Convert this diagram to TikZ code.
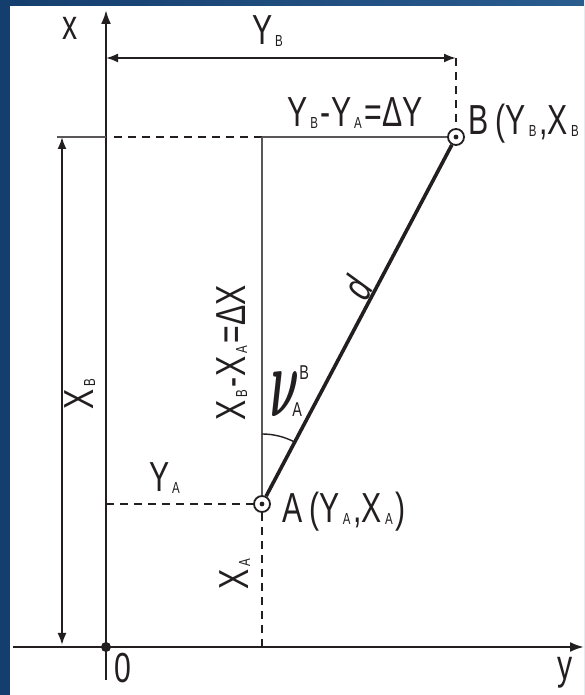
\documentclass[tikz,border=0pt]{standalone}
\usepackage{fontspec}
\setmainfont{Liberation Sans}[FakeStretch=0.72]
\usetikzlibrary{arrows.meta}
\definecolor{panelblue}{RGB}{20,62,110}
\definecolor{panellight}{RGB}{42,92,142}
\definecolor{ink}{RGB}{35,31,32}
% small index letter, set low as in the drawing
\newcommand{\lo}[1]{\kern1.5pt\raisebox{-1pt}{\fontsize{8}{9}\selectfont #1}\kern1.5pt}
\newcommand{\nuglyph}{\scalebox{0.9}[2.0]{\fontsize{30}{30}\selectfont\boldmath$\nu$}}

\begin{document}
\begin{tikzpicture}[x=0.5pt, y=0.5pt,
    axis/.style={ink, line width=1.2pt},
    thinline/.style={ink!75, line width=0.7pt},
    dim/.style={ink, line width=1pt, {Latex[length=6pt,width=4.5pt]}-{Latex[length=6pt,width=4.5pt]}},
    dashln/.style={ink, line width=1.1pt, dash pattern=on 4pt off 3pt},
    station/.style={circle, draw=ink, fill=white, line width=0.9pt, minimum size=8pt, inner sep=0pt,
        path picture={\fill[ink] (path picture bounding box.center) circle (1.2pt);}},
    lbl/.style={font=\fontsize{21}{24}\selectfont, inner sep=0pt, text=ink}
]
    % Frame
    \fill[left color=panelblue, right color=panellight] (0,0) rectangle (584,695);
    \fill[white] (10,0) rectangle (584,689);
    \useasboundingbox (0,0) rectangle (584,695);

    % Axes
    \coordinate (O) at (106,48);
    \coordinate (xbot) at (106,15);
    \coordinate (xtop) at (106,685);
    \coordinate (yleft) at (13,48);
    \coordinate (yright) at (584,48);
    \draw[axis, -{Latex[length=7pt,width=5pt]}] (xbot) -- (xtop);
    \draw[axis, -{Latex[length=7pt,width=5pt]}] (yleft) -- (yright);
    \fill[ink] (O) circle (2.5pt);

    % Points
    \node[station] (A) at (262,191) {};
    \node[station] (B) at (456,558) {};

    % Y_B dimension
    \coordinate (yb0) at (106,637);
    \coordinate (yb1) at (456,637);
    \draw[dim] (yb0) -- (yb1);
    \draw[dashln] (yb1) -- (B);

    % X_B dimension
    \coordinate (xb0) at (62,558);
    \coordinate (xb1) at (62,50);
    \draw[dim] (xb0) -- (xb1);

    % Level of B
    \coordinate (ext) at (57,558);
    \coordinate (xB) at (106,558);
    \coordinate (foot) at (262,558);
    \draw[thinline] (ext) -- (xB);
    \draw[dashln] ([xshift=4pt]xB) -- (foot);
    \draw[thinline] (foot) -- (B);
    \draw[thinline] (foot) -- (A);

    % Coordinates of A
    \coordinate (yA) at (106,191);
    \coordinate (xA) at (262,48);
    \draw[dashln] (yA) -- (A);
    \draw[dashln] (A) -- (xA);

    % Side AB and bearing
    \draw[ink, line width=1.8pt] (A) -- (B);
    \draw[ink, line width=0.7pt] ([shift={(90:35pt)}]A.center) arc[start angle=90, end angle=62, radius=35pt];

    % Labels
    \node[lbl] (xlab) at (70,667) {x};
    \node[lbl, anchor=base] (ylab) at (565,15) {y};
    \node[lbl, anchor=base] (olab) at (123,12) {0};
    \node[lbl, anchor=base] (yblab) at (269,650) {Y\lo{B}};
    \node[lbl, anchor=base] (dylab) at (355,568) {Y\lo{B}-Y\lo{A}=ΔY};
    \node[lbl, anchor=base west] (blab) at (468,560) {B\,(Y\lo{B},X\lo{B}};
    \node[lbl, anchor=base west] (alab) at (282,172) {A\,(Y\lo{A},X\lo{A})};
    \node[lbl, anchor=base] (yalab) at (166,203) {Y\lo{A}};
    \node[lbl, anchor=base, rotate=90] (xalab) at (248,122) {X\lo{A}};
    \node[lbl, anchor=base, rotate=90] (xblab) at (93,302) {X\lo{B}};
    \node[lbl, anchor=base, rotate=90] (dxlab) at (245,342) {X\lo{B}-X\lo{A}=ΔX};
    \node[lbl, rotate=62] (dlab) at (357,407) {\itshape d};
    \node[lbl, anchor=base west] (nulab) at (270,278)
        {\nuglyph\rlap{\raisebox{18.5pt}{\fontsize{10}{10}\selectfont B}}\kern-3.5pt{\fontsize{10}{10}\selectfont A}};
\end{tikzpicture}
\end{document}
